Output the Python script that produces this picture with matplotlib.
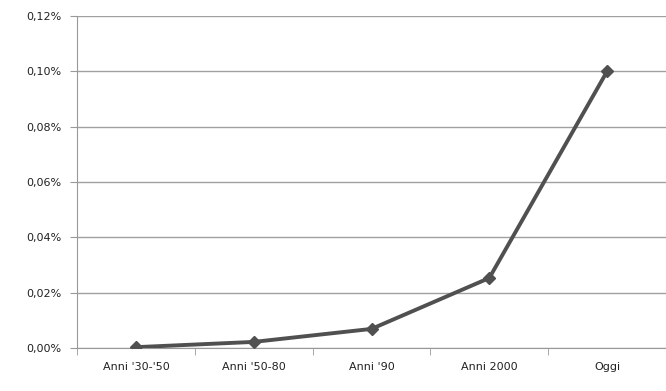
import matplotlib
matplotlib.use("Agg")
import matplotlib.pyplot as plt
from matplotlib.ticker import FuncFormatter, FixedLocator

categories = ["Anni '30-'50", "Anni '50-80", "Anni '90", "Anni 2000", "Oggi"]
values = [0.0003, 0.0022, 0.0069, 0.0253, 0.100]
yticks = [0.0, 0.02, 0.04, 0.06, 0.08, 0.10, 0.12]

W, H = 666, 391
fig = plt.figure(figsize=(W/100, H/100), dpi=100)
ax = fig.add_axes([77/W, 1-348/H, (666-77)/W, (348-16)/H])

x = list(range(len(categories)))
ax.plot(x, values, color="#505050", lw=2.8, marker="D", ms=6,
        markerfacecolor="#505050", markeredgecolor="#505050", zorder=3)

ax.set_xlim(-0.5, len(categories)-0.5)
ax.set_ylim(0, 0.12)
ax.set_yticks(yticks)
ax.yaxis.set_major_formatter(FuncFormatter(lambda v, p: f"{v:.2f}%".replace(".", ",")))
ax.yaxis.grid(True, color="#a0a0a0", lw=1)
ax.set_axisbelow(True)

ax.set_xticks(x)
ax.set_xticklabels(categories)
ax.xaxis.set_minor_locator(FixedLocator([i + 0.5 for i in range(-1, len(categories))]))
ax.tick_params(axis="x", which="major", length=0, pad=10, labelsize=8, colors="#222222")
ax.tick_params(axis="x", which="minor", length=5, color="#999999")
ax.tick_params(axis="y", length=5, color="#999999", labelsize=8, labelcolor="#222222", pad=6)

for s in ["top", "right"]:
    ax.spines[s].set_visible(False)
ax.spines["left"].set_color("#999999")
ax.spines["bottom"].set_color("#999999")

fig.savefig("out.png", dpi=100)
